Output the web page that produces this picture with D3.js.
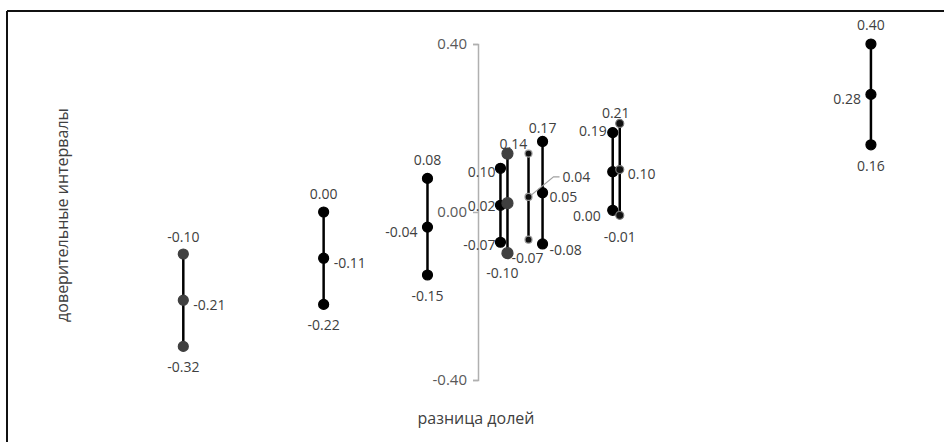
<!DOCTYPE html>
<html><head><meta charset="utf-8">
<script src="https://cdn.jsdelivr.net/npm/d3@7"></script>
<style>html,body{margin:0;padding:0;background:#fff;}svg{display:block;}</style>
</head><body>
<script>
// Data: confidence intervals (lower, point estimate, upper) for difference of proportions
const mids   = [-0.21, -0.11, -0.036, 0.016, 0.021, 0.036, 0.046, 0.096, 0.101, 0.28];
const lowers = [-0.32, -0.22, -0.15, -0.072, -0.098, -0.066, -0.076, 0.004, -0.008, 0.16];
const uppers = [-0.10, 0.00, 0.08, 0.104, 0.139, 0.139, 0.168, 0.189, 0.211, 0.40];
const yTicks = [-0.40, 0.00, 0.40];
const xTitle = "разница долей";
const yTitle = "доверительные интервалы";

// label layout per series: [upper, mid, lower] -> [anchor, dx, dy] or null
const labelLayout = [
  [["middle",0,-17],["start",10,5],["middle",0,21]],
  [["middle",0,-18],["start",10,5],["middle",0,21]],
  [["middle",0,-18],["end",-10,5],["middle",0,21]],
  [["end",-5,4],["end",-5,1],["end",-5,3]],
  [["middle",6,-10],null,["middle",-5,20]],
  [null,"leader",["middle",-1,18]],
  [["middle",0,-13],["start",7,4],["start",7,6]],
  [["end",-6,-2],null,["end",-12,6]],
  [["middle",-4,-10],["start",8,5],["middle",0,22]],
  [["middle",0,-19],["end",-10,5],["middle",0,21]]
];
const markerStyle = [
  {r:5,fill:"#404040",stroke:"#404040"},
  {r:5,fill:"#000",stroke:"#000"},
  {r:5,fill:"#000",stroke:"#000"},
  {r:5,fill:"#000",stroke:"#000"},
  {r:5.5,fill:"#404040",stroke:"#404040"},
  {r:3.5,fill:"#111",stroke:"#9a9a9a"},
  {r:5,fill:"#000",stroke:"#000"},
  {r:5,fill:"#000",stroke:"#000"},
  {r:4,fill:"#111",stroke:"#7a7a7a"},
  {r:5,fill:"#000",stroke:"#000"}
];

const W = 944, H = 442;
const svg = d3.select("body").append("svg").attr("width", W).attr("height", H);
const font = "'Open Sans', 'Liberation Sans', sans-serif";
const fmt = v => d3.format(".2f")(v).replace("\u2212", "-");

// frame
svg.append("line").attr("x1",7).attr("x2",W).attr("y1",11).attr("y2",11).attr("stroke","#111").attr("stroke-width",2);
svg.append("line").attr("x1",7).attr("x2",7).attr("y1",11).attr("y2",H).attr("stroke","#111").attr("stroke-width",2);

const x = d3.scaleLinear().domain([-0.3, 0.3]).range([57, 899]);
const y = d3.scaleLinear().domain([-0.4, 0.4]).range([380, 44]);

// y axis at x=0
const yAxis = d3.axisLeft(y).tickValues(yTicks).tickFormat(fmt).tickSizeOuter(0).tickSize(5).tickPadding(6);
const ga = svg.append("g").attr("transform", `translate(${x(0)},0)`).call(yAxis);
ga.select(".domain").attr("stroke","#b0b0b0").attr("stroke-width",1.5);
ga.selectAll(".tick line").attr("stroke","#b0b0b0").attr("stroke-width",1.5);
ga.selectAll(".tick text").attr("font-family",font).attr("font-size",15).attr("fill","#595959");

// titles
svg.append("text").attr("x", 476).attr("y", 424).attr("text-anchor","middle")
  .attr("font-family",font).attr("font-size",16).attr("fill","#404040").text(xTitle);
svg.append("text").attr("transform","translate(68,215) rotate(-90)").attr("text-anchor","middle")
  .attr("font-family",font).attr("font-size",16).attr("fill","#404040").text(yTitle);

const series = mids.map((m,i)=>({i, x:m, vals:[uppers[i], m, lowers[i]]}));

// interval lines
svg.append("g").selectAll("line").data(series).join("line")
  .attr("x1", d=>x(d.x)).attr("x2", d=>x(d.x))
  .attr("y1", d=>y(d.vals[0])).attr("y2", d=>y(d.vals[2]))
  .attr("stroke","#000").attr("stroke-width",2.5);

// markers
series.forEach(s=>{
  const st = markerStyle[s.i];
  svg.append("g").selectAll("circle").data(s.vals).join("circle")
    .attr("cx", x(s.x)).attr("cy", v=>y(v)).attr("r", st.r)
    .attr("fill", st.fill).attr("stroke", st.stroke).attr("stroke-width",1.2);
});

// labels
const lg = svg.append("g").attr("font-family",font).attr("font-size",14).attr("fill","#404040");
series.forEach(s=>{
  s.vals.forEach((v,k)=>{
    const L = labelLayout[s.i][k];
    if(!L) return;
    const px = x(s.x), py = y(v);
    if(L === "leader"){
      svg.append("polyline").attr("points", `${px+3},${py-2} ${px+25},${py-20} ${px+31},${py-20}`)
        .attr("fill","none").attr("stroke","#a0a0a0").attr("stroke-width",1.2);
      lg.append("text").attr("x", px+34).attr("y", py-20).attr("dy","0.35em").text(fmt(v));
      return;
    }
    lg.append("text").attr("x", px+L[1]).attr("y", py+L[2]).attr("dy","0.35em")
      .attr("text-anchor", L[0]).text(fmt(v));
  });
});
</script>
</body></html>
